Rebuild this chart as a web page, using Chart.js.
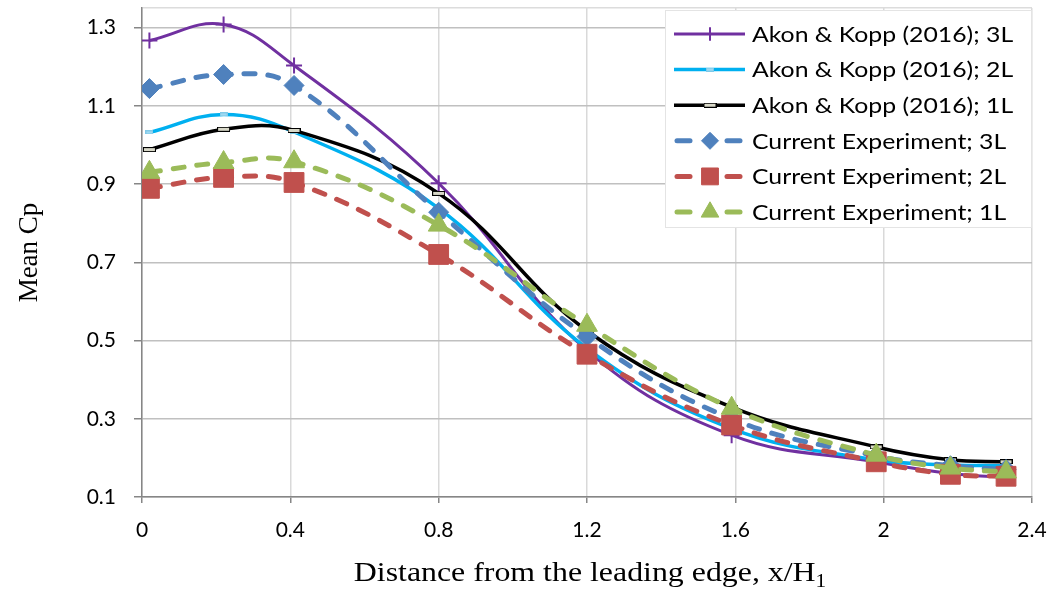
<!DOCTYPE html>
<html>
<head>
<meta charset="utf-8">
<script src="https://cdn.jsdelivr.net/npm/chart.js@4.4.0/dist/chart.umd.min.js"></script>
<style>
  html, body { margin: 0; padding: 0; background: #fff; }
  #wrap { width: 1057px; height: 594px; }
</style>
</head>
<body>
<div id="wrap"><canvas id="chart" width="1057" height="594"></canvas></div>
<script>
// x/H1 stations and mean Cp
const xPos = [0.02, 0.22, 0.41, 0.8, 1.2, 1.59, 1.98, 2.18, 2.33];
const akon3L = [1.267, 1.308, 1.203, 0.902, 0.475, 0.258, 0.19, 0.16, 0.15];
const akon2L = [1.032, 1.078, 1.033, 0.838, 0.48, 0.275, 0.195, 0.182, 0.18];
const akon1L = [0.988, 1.04, 1.037, 0.876, 0.525, 0.33, 0.228, 0.195, 0.19];
const cur3L = [1.144, 1.18, 1.152, 0.828, 0.51, 0.3, 0.205, 0.18, 0.17];
const cur2L = [0.889, 0.917, 0.904, 0.72, 0.465, 0.284, 0.19, 0.158, 0.153];
const cur1L = [0.93, 0.955, 0.957, 0.795, 0.539, 0.327, 0.207, 0.174, 0.164];

const xTicks = [0, 0.4, 0.8, 1.2, 1.6, 2, 2.4];
const yTicks = [0.1, 0.3, 0.5, 0.7, 0.9, 1.1, 1.3];
const yTop = 1.35;

const pts = (ys) => xPos.map((x, i) => ({ x, y: ys[i] }));

// small flat markers used by the Akon & Kopp curves
function flatMarker(w, h, fill, stroke) {
  const c = document.createElement('canvas');
  c.width = w;
  c.height = h;
  const g = c.getContext('2d');
  g.fillStyle = fill;
  g.fillRect(0, 0, w, h);
  g.strokeStyle = stroke;
  g.lineWidth = 1;
  g.strokeRect(0.5, 0.5, w - 1, h - 1);
  return c;
}

const solid = (label, data, color, width, style, radius) => ({
  label, data: pts(data),
  borderColor: color, borderWidth: width, tension: 0.4,
  pointStyle: style, pointRadius: radius, pointBorderWidth: 2,
  pointBackgroundColor: color, pointBorderColor: color,
});

const dashed = (label, data, color, style, radius) => ({
  label, data: pts(data),
  borderColor: color, borderWidth: 5, borderDash: [11, 13], borderCapStyle: 'round', tension: 0.4,
  pointStyle: style, pointRadius: radius, pointBorderWidth: 1,
  pointBackgroundColor: color, pointBorderColor: color,
});

const datasets = [
  solid('Akon & Kopp (2016); 3L', akon3L, '#7030A0', 3, 'cross', 8),
  solid('Akon & Kopp (2016); 2L', akon2L, '#00B0F0', 3.5, flatMarker(8, 4, '#9fd9f2', '#7fc9e8'), 4),
  solid('Akon & Kopp (2016); 1L', akon1L, '#000000', 3.5, flatMarker(13, 5, '#d8d8c8', '#000'), 6),
  dashed('Current Experiment; 3L', cur3L, '#4F81BD', 'rectRot', 10),
  dashed('Current Experiment; 2L', cur2L, '#C0504D', 'rect', 14),
  dashed('Current Experiment; 1L', cur1L, '#9BBB59', 'triangle', 12),
];
// later series sit on top, as in the original
datasets.forEach((d, i) => { d.order = datasets.length - i; });

const boxLegend = {
  id: 'boxLegend',
  afterDraw(chart) {
    const ctx = chart.ctx;
    ctx.save();
    ctx.fillStyle = '#fff';
    ctx.fillRect(665, 10, 367, 218);
    ctx.strokeStyle = '#e4e4e4';
    ctx.lineWidth = 1;
    ctx.strokeRect(665.5, 10.5, 366, 217);
    chart.data.datasets.forEach((ds, i) => {
      const y = 34 + i * 35.6;
      ctx.save();
      ctx.strokeStyle = ds.borderColor;
      ctx.lineWidth = ds.borderWidth;
      ctx.lineCap = ds.borderCapStyle || 'butt';
      if (ds.borderDash) {
        ctx.beginPath(); ctx.moveTo(677, y); ctx.lineTo(690, y); ctx.stroke();
        ctx.beginPath(); ctx.moveTo(727, y); ctx.lineTo(740, y); ctx.stroke();
      } else {
        ctx.beginPath(); ctx.moveTo(674, y); ctx.lineTo(745, y); ctx.stroke();
      }
      ctx.restore();
      ctx.save();
      ctx.fillStyle = ds.pointBackgroundColor;
      ctx.strokeStyle = ds.pointBorderColor;
      ctx.lineWidth = ds.pointBorderWidth;
      Chart.helpers.drawPoint(ctx, {
        pointStyle: ds.pointStyle, radius: ds.pointRadius * 0.85,
        borderWidth: ds.pointBorderWidth, rotation: 0,
      }, 710, y);
      ctx.restore();
      ctx.save();
      ctx.fillStyle = '#000';
      ctx.font = '21px Lato';
      ctx.textBaseline = 'middle';
      ctx.translate(752, y + 1);
      ctx.scale(1.18, 1);
      ctx.fillText(ds.label, 0, 0);
      ctx.restore();
    });
    ctx.restore();
  }
};

const xTitle = {
  id: 'xTitle',
  afterDraw(chart) {
    const ctx = chart.ctx;
    const main = 'Distance from the leading edge, x/H';
    const sub = '1';
    ctx.save();
    ctx.fillStyle = '#000';
    ctx.textBaseline = 'alphabetic';
    ctx.font = '27px "Liberation Serif"';
    const mw = ctx.measureText(main).width;
    ctx.font = '18px "Liberation Serif"';
    const sw = ctx.measureText(sub).width;
    const cx = (chart.chartArea.left + chart.chartArea.right) / 2;
    ctx.translate(cx + 3, 581);
    ctx.scale(1.18, 1);
    const start = -(mw + sw) / 2;
    ctx.font = '27px "Liberation Serif"';
    ctx.fillText(main, start, 0);
    ctx.font = '18px "Liberation Serif"';
    ctx.fillText(sub, start + mw, 6);
    ctx.restore();
  }
};

const fmt = (v) => String(Math.round(v * 10) / 10);

new Chart(document.getElementById('chart').getContext('2d'), {
  type: 'line',
  data: { datasets },
  plugins: [boxLegend, xTitle],
  options: {
    responsive: false,
    animation: false,
    layout: { autoPadding: false, padding: { left: 0, right: 25, top: 8, bottom: 0 } },
    plugins: { legend: { display: false }, tooltip: { enabled: false } },
    scales: {
      x: {
        type: 'linear',
        min: 0,
        max: 2.4,
        afterBuildTicks: (s) => { s.ticks = xTicks.map((v) => ({ value: v })); },
        afterFit: (s) => { s.height = 97; s.paddingLeft = 0; s.paddingRight = 0; },
        ticks: {
          callback: fmt, color: '#000', padding: 15, maxRotation: 0,
          font: { family: 'Lato', size: 21 },
        },
        grid: { color: '#d9d9d9', tickColor: '#868686', tickLength: 6, lineWidth: 1.5 },
        border: { color: '#868686', width: 1.5 },
      },
      y: {
        type: 'linear',
        min: 0.1,
        max: yTop,
        afterBuildTicks: (s) => { s.ticks = yTicks.concat([yTop]).map((v) => ({ value: v })); },
        afterFit: (s) => { s.width = 142; s.paddingTop = 0; s.paddingBottom = 0; },
        ticks: {
          callback: (v) => (v > 1.31 ? '' : fmt(v)), color: '#000', padding: 18,
          font: { family: 'Lato', size: 21 },
        },
        grid: {
          color: (c) => (c.tick && c.tick.value > 1.31 ? '#dcdcdc' : '#c0c0c0'),
          tickColor: (c) => (c.tick && c.tick.value > 1.31 ? 'rgba(0,0,0,0)' : '#868686'),
          tickLength: 8,
          lineWidth: 1.5,
        },
        border: { color: '#868686', width: 1.5 },
        title: {
          display: true, text: 'Mean Cp', color: '#000',
          font: { family: 'Liberation Serif', size: 27 },
          padding: { top: 14, bottom: 0 },
        },
      },
    },
  },
});
</script>
</body>
</html>
